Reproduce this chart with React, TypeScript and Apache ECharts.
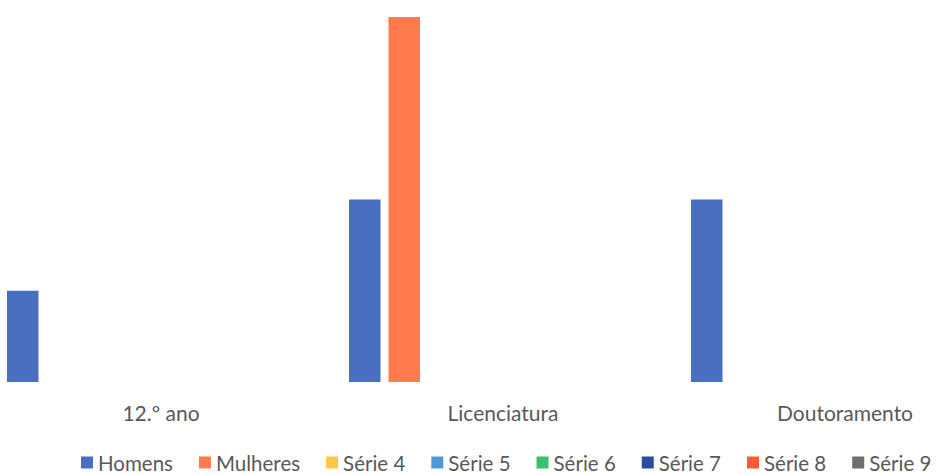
import React, { useEffect, useRef } from "react";
import * as echarts from "echarts";

const categories = ["12.º ano", "Licenciatura", "Doutoramento"];
const seriesNames = ["Homens", "Mulheres", "Série 4", "Série 5", "Série 6", "Série 7", "Série 8", "Série 9"];
const homens = [1, 2, 2];
const mulheres = [null, 4, null];
const serie4 = [null, null, null];
const serie5 = [null, null, null];
const serie6 = [null, null, null];
const serie7 = [null, null, null];
const serie8 = [null, null, null];
const serie9 = [null, null, null];
const seriesColors = ["#4a6fc0", "#ff7a4c", "#ffc84a", "#4a9ad8", "#3dbe6a", "#2a4ba0", "#ff5a33", "#6e6e6e"];

const FONT = "Lato, 'Open Sans', sans-serif";
// The plot area starts a little left of the visible page and runs past its
// right edge, so the chart canvas is shifted and made wider than the page.
const SHIFT = 10;
const CANVAS_W = 1100;

export default function App() {
  const ref = useRef<HTMLDivElement>(null);

  useEffect(() => {
    if (!ref.current) return;
    const chart = echarts.init(ref.current, undefined, { renderer: "svg" });
    const values = [homens, mulheres, serie4, serie5, serie6, serie7, serie8, serie9];
    chart.setOption({
      animation: false,
      backgroundColor: "#ffffff",
      textStyle: { fontFamily: FONT },
      grid: { left: 0, width: 1026, top: 17, bottom: 93 },
      legend: {
        left: 76 + SHIFT,
        top: 447,
        itemWidth: 12,
        itemHeight: 12,
        itemGap: 26,
        icon: "rect",
        textStyle: { fontSize: 20.5, color: "#595959", fontFamily: FONT },
        data: seriesNames,
      },
      xAxis: {
        type: "category",
        data: categories,
        axisLine: { show: false },
        axisTick: { show: false },
        axisLabel: { fontSize: 21, color: "#595959", margin: 20, fontFamily: FONT },
      },
      yAxis: {
        type: "value",
        min: 0,
        max: 4,
        show: false,
        splitLine: { show: false },
      },
      series: seriesNames.map((name, i) => ({
        name,
        type: "bar",
        data: values[i],
        barWidth: 31.5,
        barGap: "25.4%",
        itemStyle: { color: seriesColors[i] },
      })),
    });
    return () => chart.dispose();
  }, []);

  return (
    <div style={{ position: "fixed", left: 0, top: 0, width: 937, height: 475, overflow: "hidden", background: "#fff" }}>
      <div
        ref={ref}
        style={{ position: "absolute", left: -SHIFT, top: 0, width: CANVAS_W, height: 475 }}
      />
    </div>
  );
}
